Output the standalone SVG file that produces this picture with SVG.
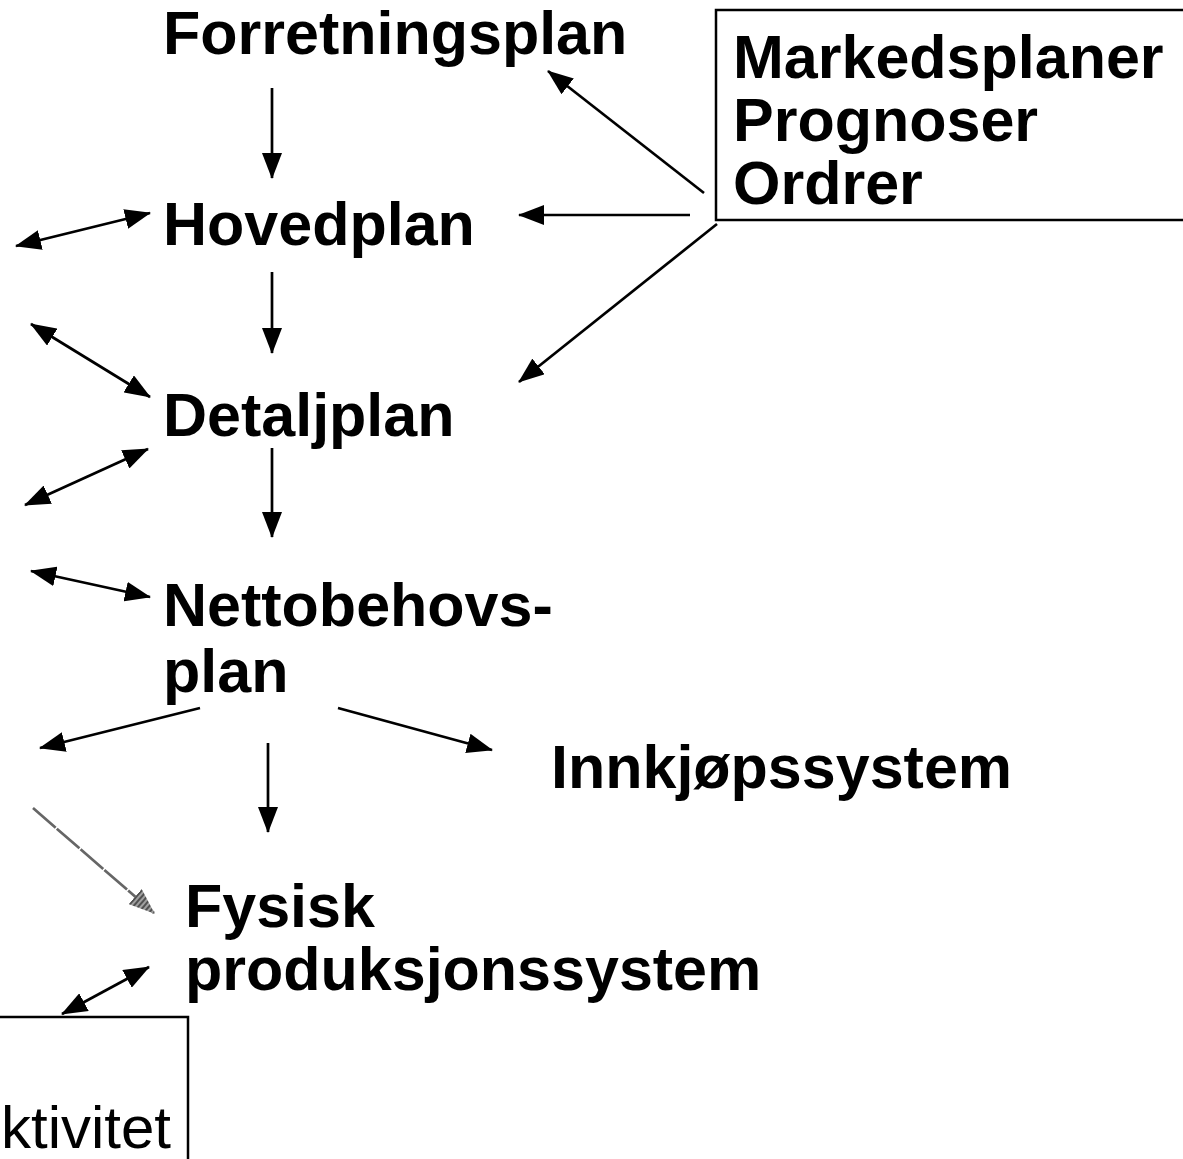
<svg xmlns="http://www.w3.org/2000/svg" width="1183" height="1159" viewBox="0 0 1183 1159">
  <style>
    .lbl { font-family: "Liberation Sans", Arial, sans-serif; font-size: 61px; font-weight: bold; fill: #000; }
    .plain { font-family: "Liberation Sans", Arial, sans-serif; font-size: 60px; fill: #000; }
    .box { fill: none; stroke: #000; stroke-width: 2.5; }
    .conn { fill: none; stroke: #000; stroke-width: 2.7; marker-end: url(#head); }
    .both { fill: none; stroke: #000; stroke-width: 2.7; marker-start: url(#head); marker-end: url(#head); }
    .faint { fill: none; stroke: #666; stroke-width: 2.7; stroke-dasharray: 30 1.5; marker-end: url(#grayhead); }
  </style>
  <defs>
    <marker id="head" viewBox="0 0 26 20" markerUnits="userSpaceOnUse" markerWidth="26" markerHeight="20" refX="25" refY="10" orient="auto-start-reverse">
      <path d="M0,0 L26,10 L0,20 z" fill="#000"/>
    </marker>
    <pattern id="stripes" patternUnits="userSpaceOnUse" width="4" height="4">
      <rect width="4" height="4" fill="#a0a0a0"/>
      <rect width="2" height="4" fill="#505050"/>
    </pattern>
    <marker id="grayhead" viewBox="0 0 26 20" markerUnits="userSpaceOnUse" markerWidth="26" markerHeight="20" refX="25" refY="10" orient="auto">
      <path d="M0,0 L26,10 L0,20 z" fill="url(#stripes)"/>
    </marker>
  </defs>

  <rect width="1183" height="1159" fill="#fff"/>

  <!-- planning levels -->
  <g id="forretningsplan"><text class="lbl" x="163" y="54">Forretningsplan</text></g>
  <g id="marked">
    <rect class="box" x="716" y="10" width="480" height="210"/>
    <text class="lbl" x="733" y="78">Markedsplaner</text>
    <text class="lbl" x="733" y="141">Prognoser</text>
    <text class="lbl" x="733" y="204">Ordrer</text>
  </g>
  <g id="hovedplan"><text class="lbl" x="163" y="245">Hovedplan</text></g>
  <g id="detaljplan"><text class="lbl" x="163" y="436">Detaljplan</text></g>
  <g id="nettobehovsplan">
    <text class="lbl" x="163" y="626">Nettobehovs-</text>
    <text class="lbl" x="163" y="692">plan</text>
  </g>
  <g id="innkjop"><text class="lbl" x="551" y="788">Innkjøpssystem</text></g>
  <g id="fysisk">
    <text class="lbl" x="185" y="927">Fysisk</text>
    <text class="lbl" x="185" y="990">produksjonssystem</text>
  </g>
  <g id="aktivitet">
    <rect class="box" x="-10" y="1017" width="198" height="160"/>
    <text class="plain" x="1" y="1148">ktivitet</text>
  </g>

  <!-- connectors -->
  <g id="connectors">
    <line class="conn" x1="272" y1="88" x2="272" y2="178"/>
    <line class="conn" x1="272" y1="272" x2="272" y2="353"/>
    <line class="conn" x1="272" y1="448" x2="272" y2="537"/>
    <line class="conn" x1="268" y1="743" x2="268" y2="832"/>

    <line class="conn" x1="704" y1="193" x2="548" y2="71"/>
    <line class="conn" x1="690" y1="215" x2="519" y2="215"/>
    <line class="conn" x1="717" y1="224" x2="519" y2="382"/>

    <line class="both" x1="16" y1="246" x2="150" y2="213"/>
    <line class="both" x1="31" y1="324" x2="150" y2="397"/>
    <line class="both" x1="25" y1="505" x2="148" y2="449"/>
    <line class="both" x1="31" y1="571" x2="150" y2="597"/>

    <line class="conn" x1="200" y1="708" x2="40" y2="748"/>
    <line class="conn" x1="338" y1="708" x2="492" y2="750"/>

    <line class="faint" x1="33" y1="808" x2="154" y2="913"/>

    <line class="both" x1="62" y1="1014" x2="149" y2="967"/>
  </g>
</svg>
